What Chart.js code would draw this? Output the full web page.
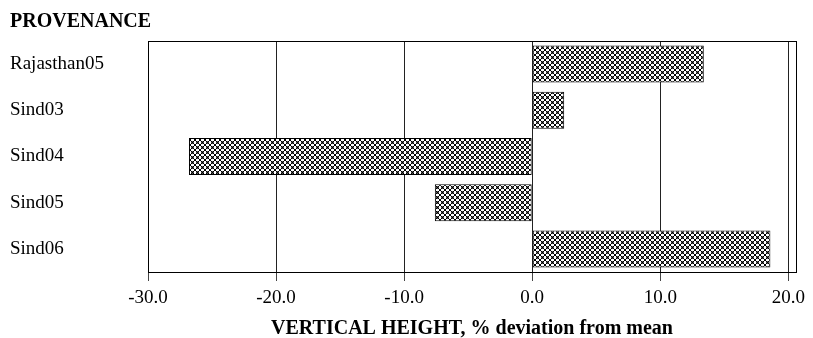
<!DOCTYPE html>
<html>
<head>
<meta charset="utf-8">
<script src="https://cdn.jsdelivr.net/npm/chart.js@4/dist/chart.umd.min.js"></script>
<style>
  html, body { margin: 0; padding: 0; background: #fff; }
  #wrap { width: 813px; height: 338px; position: relative; }
</style>
</head>
<body>
<div id="wrap"><canvas id="c" width="813" height="338"></canvas></div>
<script>
// Provenances and their height deviation from the overall mean (%)
const provenances = ['Rajasthan05', 'Sind03', 'Sind04', 'Sind05', 'Sind06'];
const deviation = [13.4, 2.5, -26.8, -7.6, 18.6];
const xTicks = [-30, -20, -10, 0, 10, 20];
const xMin = -30;
const xMax = 20.6;
const yTitle = 'PROVENANCE';
const xTitle = 'VERTICAL HEIGHT, % deviation from mean';

const FONT = "'Liberation Serif', 'Times New Roman', serif";

// Cross-hatch fill: small tile with both diagonals set
function crossHatch() {
  const n = 5;
  const t = document.createElement('canvas');
  t.width = n; t.height = n;
  const g = t.getContext('2d');
  g.fillStyle = '#fff';
  g.fillRect(0, 0, n, n);
  g.fillStyle = '#000';
  for (let i = 0; i < n; i++) {
    g.fillRect(i, i, 1, 1);
    g.fillRect(n - 1 - i, i, 1, 1);
  }
  g.fillStyle = '#555';
  g.fillRect(2, 1, 1, 1);
  g.fillRect(2, 3, 1, 1);
  g.fillRect(1, 2, 1, 1);
  g.fillRect(3, 2, 1, 1);
  return g.createPattern(t, 'repeat');
}

// Frame around the plot area plus the heading above the labels
const framePlugin = {
  id: 'frame',
  afterDraw(chart) {
    const { ctx, chartArea: a } = chart;
    ctx.save();
    ctx.strokeStyle = '#000';
    ctx.lineWidth = 1;
    ctx.strokeRect(Math.round(a.left) + 0.5, Math.round(a.top) + 0.5,
                   Math.round(a.right - a.left), Math.round(a.bottom - a.top));
    ctx.fillStyle = '#000';
    ctx.font = 'bold 20px ' + FONT;
    ctx.textBaseline = 'alphabetic';
    ctx.textAlign = 'left';
    ctx.fillText(yTitle, 10, 27);
    ctx.restore();
  }
};

const ctx = document.getElementById('c').getContext('2d');
new Chart(ctx, {
  type: 'bar',
  data: {
    labels: provenances,
    datasets: [{
      data: deviation,
      backgroundColor: crossHatch(),
      borderColor: '#000',
      borderWidth: 1,
      borderSkipped: false,
      barPercentage: 1.0,
      categoryPercentage: 0.8
    }]
  },
  options: {
    indexAxis: 'y',
    responsive: false,
    animation: false,
    layout: { padding: { top: 41, right: 17, left: 10, bottom: 0 } },
    plugins: {
      legend: { display: false },
      tooltip: { enabled: false }
    },
    scales: {
      x: {
        type: 'linear',
        min: xMin,
        max: xMax,
        afterBuildTicks(axis) {
          axis.ticks = xTicks.map(v => ({ value: v }));
        },
        afterFit(axis) { axis.height = 66; },
        grid: {
          color: '#222',
          lineWidth: 1,
          drawTicks: true,
          tickLength: 9,
          tickColor: '#444'
        },
        border: { display: true, color: '#000' },
        ticks: {
          color: '#000',
          padding: 6,
          maxRotation: 0,
          font: { family: FONT, size: 19 },
          callback: v => Number(v).toFixed(1)
        },
        title: {
          display: true,
          text: xTitle,
          color: '#000',
          padding: { top: 4, bottom: -3 },
          font: { family: FONT, size: 20, weight: 'bold' }
        }
      },
      y: {
        afterFit(axis) { axis.width = 138; },
        grid: { display: false, drawTicks: false },
        border: { display: true, color: '#000' },
        ticks: {
          color: '#000',
          crossAlign: 'far',
          font: { family: FONT, size: 19 }
        }
      }
    }
  },
  plugins: [framePlugin]
});
</script>
</body>
</html>
